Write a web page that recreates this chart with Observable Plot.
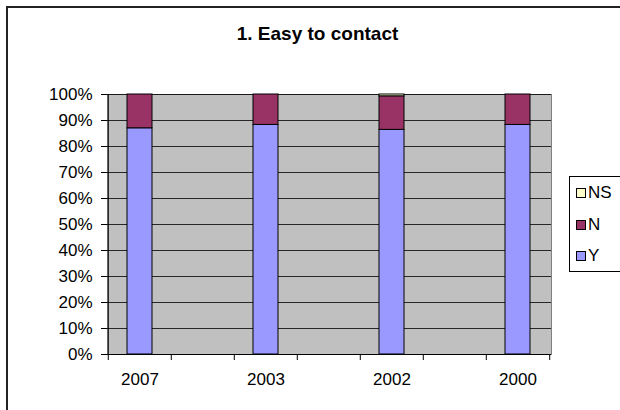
<!DOCTYPE html>
<html>
<head>
<meta charset="utf-8">
<script src="https://cdn.jsdelivr.net/npm/d3@7"></script>
<script src="https://cdn.jsdelivr.net/npm/@observablehq/plot@0.6"></script>
<style>
  html, body { margin: 0; padding: 0; background: #fff; }
  #chart { position: relative; width: 620px; height: 410px; overflow: hidden;
           font-family: "Liberation Sans", Arial, sans-serif; color: #000; }
  #chart svg { position: absolute; left: 0; top: 0; }
  .outline { position: absolute; left: 6px; top: 6px; width: 700px; height: 500px;
             border-top: 2px solid #222; border-left: 2px solid #222; }
  .title { position: absolute; left: 0; top: 24px; width: 635px; text-align: center;
           font-weight: bold; font-size: 19px; line-height: 19px; }
  .legend { position: absolute; left: 569px; top: 176px; width: 70px; height: 94px;
            border: 1px solid #000; background: #fff; }
  .legend .row { position: absolute; left: 0; height: 20px; line-height: 20px; font-size: 17px; white-space: nowrap; }
  .legend .sw { position: absolute; left: 6px; top: 5px; width: 8px; height: 8px; border: 1px solid #000; }
  .legend .lab { position: absolute; left: 18px; top: 0; }
</style>
</head>
<body>
<div id="chart">
  <div class="outline"></div>
</div>
<script>
// Survey answers per year, in percent of respondents
const years = ["2007", "2003", "2002", "2000"];
const yes = [87, 88.3, 86.4, 88.3];
const no = [13, 11.7, 12.9, 11.7];
const notSure = [0, 0, 0.7, 0];

const seriesNames = ["Y", "N", "NS"];
const seriesColors = ["#9999ff", "#993366", "#ffffcc"];
const yTicks = [0, 10, 20, 30, 40, 50, 60, 70, 80, 90, 100];
const title = "1. Easy to contact";

// Long-form table for stacking: Y at the bottom, then N, then NS
const rows = years.flatMap((year, i) => [
  {year, series: "Y", value: yes[i]},
  {year, series: "N", value: no[i]},
  {year, series: "NS", value: notSure[i]}
]).filter(d => d.value > 0);

// Category slots: an empty slot sits between consecutive years
const slots = years.flatMap((y, i) => i ? ["gap" + i, y] : [y]);

const W = 620, H = 410;
const mL = 107, mR = 69, mT = 94, mB = 56;
const step = (W - mL - mR) / slots.length;

const chart = Plot.plot({
  width: W, height: H,
  marginLeft: mL, marginRight: mR, marginTop: mT, marginBottom: mB,
  style: {fontFamily: "'Liberation Sans', Arial, sans-serif", fontSize: "17px",
          background: "transparent", color: "#000", overflow: "visible"},
  x: {type: "band", domain: slots, paddingInner: 0.6, paddingOuter: 0.3, axis: null, label: null},
  y: {domain: [0, 100], axis: null, label: null},
  color: {domain: seriesNames, range: seriesColors},
  marks: [
    Plot.frame({fill: "#c0c0c0", stroke: "#808080"}),
    Plot.gridY({ticks: yTicks, stroke: "#000", strokeOpacity: 0.8}),
    Plot.barY(rows, {x: "year", y: "value", fill: "series", order: seriesNames,
                     stroke: "#000", strokeWidth: 1}),
    Plot.ruleY([0], {stroke: "#000"}),
    Plot.ruleX([slots[0]], {dx: -step / 2, stroke: "#000"}),
    Plot.axisY({ticks: yTicks, tickFormat: d => d + "%", tickSize: 6, tickPadding: 9,
                stroke: "#000", fill: "#000", label: null}),
    // category boundary ticks
    Plot.axisX({ticks: slots, tickFormat: () => "", tickSize: 6, dx: -step / 2, stroke: "#000", label: null}),
    Plot.axisX({ticks: [slots[slots.length - 1]], tickFormat: () => "", tickSize: 6, dx: step / 2, stroke: "#000", label: null}),
    // year labels
    Plot.axisX({ticks: years, tickSize: 0, tickPadding: 18, fill: "#000", label: null})
  ]
});

const root = document.getElementById("chart");
root.appendChild(chart);

const t = document.createElement("div");
t.className = "title";
t.textContent = title;
root.appendChild(t);

// Legend, listed top to bottom in reverse stacking order
const legend = document.createElement("div");
legend.className = "legend";
[...seriesNames].reverse().forEach((name, i) => {
  const row = document.createElement("div");
  row.className = "row";
  row.style.top = (6 + i * 31.5) + "px";
  const sw = document.createElement("span");
  sw.className = "sw";
  sw.style.background = seriesColors[seriesNames.indexOf(name)];
  const lab = document.createElement("span");
  lab.className = "lab";
  lab.textContent = name;
  row.appendChild(sw);
  row.appendChild(lab);
  legend.appendChild(row);
});
root.appendChild(legend);
</script>
</body>
</html>
